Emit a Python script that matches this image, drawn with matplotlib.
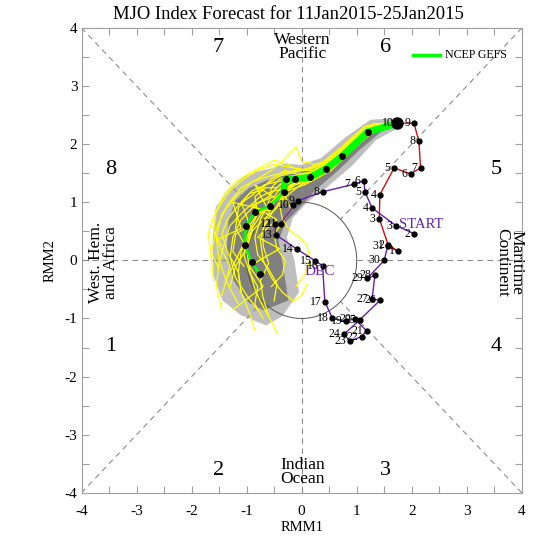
import matplotlib
matplotlib.use("Agg")
import matplotlib.pyplot as plt
from matplotlib.patches import Polygon, Circle
from matplotlib.ticker import MultipleLocator

plt.rcParams['font.family'] = ['Liberation Serif', 'DejaVu Serif']
plt.rcParams['axes.unicode_minus'] = False

# observed RMM, previous month (purple) and current month (red)
dec_days = list(range(2, 32))
dec_rmm1 = [2.04, 1.71, 1.28, 1.15, 1.13, 0.95, 0.38, -0.06, -0.15, -0.38, -0.49, -0.47, -0.08,
            0.25, 0.38, 0.42, 0.56, 0.80, 0.96, 1.18, 1.09, 0.88, 0.77, 1.06, 1.42, 1.28, 1.33,
            1.19, 1.50, 1.56]
dec_rmm2 = [0.46, 0.60, 0.90, 1.18, 1.37, 1.31, 1.18, 1.03, 0.95, 0.63, 0.63, 0.44, 0.19,
            -0.01, -0.09, -0.71, -1.00, -1.04, -1.01, -1.21, -1.31, -1.39, -1.27, -1.02, -0.69,
            -0.66, -0.26, -0.31, 0.0, 0.24]
jan_days = list(range(1, 11))
jan_rmm1 = [1.75, 1.57, 1.41, 1.42, 1.68, 1.98, 2.16, 2.13, 2.04, 1.74]
jan_rmm2 = [0.16, 0.27, 0.72, 1.13, 1.59, 1.49, 1.59, 2.05, 2.36, 2.36]

# ensemble mean forecast (NCEP GEFS)
mean_rmm1 = [1.74, 1.20, 0.74, 0.45, 0.15, -0.13, -0.29, -0.33, -0.58, -0.85, -1.02, -1.03, -0.91, -0.76]
mean_rmm2 = [2.36, 2.21, 1.80, 1.58, 1.43, 1.40, 1.40, 1.17, 0.94, 0.83, 0.59, 0.26, -0.03, -0.23]

# spread areas
outer_rmm1 = [1.80, 1.25, 0.80, 0.35, -0.02, -0.29, -0.56, -0.84, -1.05, -1.29, -1.56, -1.62, -1.60,
              -1.44, -1.11, -0.65, -0.35, -0.05, -0.13, -0.27, -0.16, 0.10, 0.45, 0.93, 1.35, 1.76]
outer_rmm2 = [2.45, 2.42, 2.12, 1.76, 1.64, 1.67, 1.58, 1.52, 1.44, 1.24, 0.92, 0.35, -0.26,
              -0.69, -0.94, -1.12, -0.96, -0.55, 0.0, 0.39, 0.73, 1.00, 1.25, 1.64, 2.07, 2.28]
inner_rmm1 = [1.73, 1.25, 0.80, 0.35, -0.02, -0.35, -0.65, -0.96, -1.20, -1.33, -1.36, -1.24, -0.96,
              -0.69, -0.24, -0.35, -0.42, -0.29, -0.05, 0.25, 0.62, 1.04, 1.44, 1.73]
inner_rmm2 = [2.36, 2.28, 1.98, 1.64, 1.51, 1.46, 1.37, 1.24, 1.03, 0.69, 0.18, -0.34, -0.73,
              -0.86, -0.69, -0.04, 0.34, 0.66, 0.89, 1.21, 1.51, 1.89, 2.21, 2.33]

# ensemble members
members_rmm1 = [
    [1.74, 1.25, 0.80, 0.50, 0.20, -0.10, -0.35, -0.60, -0.90, -1.20, -1.45, -1.55, -1.50, -1.35, -1.15],
    [1.74, 1.15, 0.70, 0.40, 0.10, -0.20, -0.45, -0.70, -0.90, -1.00, -0.95, -0.85, -0.70, -0.55, -0.45],
    [1.74, 1.30, 0.85, 0.55, 0.25, 0.00, -0.10, -0.30, -0.55, -0.80, -1.10, -1.35, -1.55, -1.65, -1.60],
    [1.74, 1.10, 0.65, 0.35, 0.05, -0.25, -0.50, -0.65, -0.75, -0.70, -0.55, -0.35, -0.15, 0.00, 0.10],
    [1.74, 1.20, 0.75, 0.45, 0.15, -0.15, -0.40, -0.60, -0.85, -1.10, -1.25, -1.30, -1.20, -1.00, -0.80],
    [1.74, 1.25, 0.78, 0.48, 0.18, -0.10, -0.30, -0.40, -0.35, -0.20, -0.05, 0.10, 0.15, 0.05, -0.10],
    [1.74, 1.18, 0.72, 0.42, 0.12, -0.20, -0.50, -0.80, -1.05, -1.30, -1.45, -1.60, -1.70, -1.65, -1.50],
    [1.74, 1.22, 0.76, 0.46, 0.16, -0.12, -0.35, -0.55, -0.80, -0.95, -1.10, -1.15, -1.10, -0.95, -0.85],
    [1.74, 1.28, 0.82, 0.52, 0.22, -0.05, -0.25, -0.45, -0.85, -0.60, -1.25, -1.10, -1.55, -1.30, -1.45],
    [1.74, 1.12, 0.68, 0.38, 0.08, -0.20, -0.40, -0.55, -0.60, -0.75, -0.85, -0.80, -0.60, -0.45, -0.50],
    [1.74, 1.24, 0.79, 0.49, 0.19, -0.08, -0.30, -0.55, -0.75, -0.95, -1.15, -1.20, -1.05, -1.20, -1.35],
    [1.74, 1.16, 0.71, 0.41, 0.11, -0.18, -0.38, -0.50, -0.90, -0.45, -0.80, -0.40, -0.95, -0.70, -1.25],
    [1.74, 1.26, 0.83, 0.53, 0.23, -0.05, -0.25, -0.50, -0.75, -0.95, -1.20, -1.40, -1.55, -1.60, -1.45],
    [1.74, 1.21, 0.74, 0.44, 0.14, -0.15, -0.33, -0.45, -0.70, -0.95, -1.05, -0.95, -0.80, -0.85, -0.70],
    [1.74, 1.19, 0.73, 0.43, 0.13, -0.12, -0.28, -0.30, -0.20, -0.35, -0.50, -0.45, -0.30, -0.35, -0.55],
    [1.74, 1.27, 0.81, 0.51, 0.21, -0.07, -0.28, -0.50, -0.75, -1.05, -1.30, -1.40, -1.50, -1.55, -1.45],
    [1.74, 1.23, 0.77, 0.47, 0.17, -0.12, -0.32, -0.45, -0.65, -0.85, -0.80, -0.95, -1.20, -1.25, -1.05],
    [1.74, 1.14, 0.70, 0.40, 0.10, -0.15, -0.40, -0.65, -0.90, -1.10, -1.00, -0.90, -1.00, -1.20, -1.30],
    [1.74, 1.29, 0.84, 0.54, 0.24, -0.02, -0.22, -0.40, -0.55, -0.70, -0.70, -0.60, -0.75, -0.70, -0.60],
    [1.74, 1.17, 0.72, 0.42, 0.12, -0.16, -0.42, -0.68, -0.90, -1.15, -1.35, -1.45, -1.35, -1.15, -1.10],
]
members_rmm2 = [
    [2.36, 2.30, 1.95, 1.70, 1.55, 1.55, 1.50, 1.45, 1.35, 1.10, 0.80, 0.40, 0.00, -0.40, -0.75],
    [2.36, 2.20, 1.80, 1.55, 1.40, 1.30, 1.10, 0.85, 0.55, 0.20, -0.15, -0.50, -0.80, -1.05, -1.25],
    [2.36, 2.35, 2.00, 1.75, 1.65, 1.70, 1.95, 1.75, 1.55, 1.40, 1.25, 0.95, 0.55, 0.10, -0.35],
    [2.36, 2.15, 1.70, 1.45, 1.30, 1.20, 1.00, 0.70, 0.35, 0.00, -0.30, -0.55, -0.70, -0.60, -0.40],
    [2.36, 2.28, 1.88, 1.65, 1.50, 1.45, 1.30, 1.10, 0.95, 0.70, 0.40, 0.05, -0.30, -0.60, -0.85],
    [2.36, 2.22, 1.85, 1.58, 1.42, 1.35, 1.20, 0.95, 0.70, 0.50, 0.40, 0.25, 0.00, -0.25, -0.45],
    [2.36, 2.32, 1.92, 1.68, 1.55, 1.60, 1.65, 1.55, 1.40, 1.20, 1.00, 0.75, 0.45, 0.15, -0.15],
    [2.36, 2.18, 1.78, 1.52, 1.38, 1.30, 1.15, 0.95, 0.80, 0.50, 0.15, -0.20, -0.55, -0.90, -1.20],
    [2.36, 2.26, 1.90, 1.62, 1.48, 1.40, 1.25, 1.05, 1.30, 0.85, 1.00, 0.55, 0.35, -0.10, -0.60],
    [2.36, 2.24, 1.86, 1.60, 1.48, 1.45, 1.40, 1.25, 1.00, 0.70, 0.40, 0.10, -0.15, -0.40, -0.70],
    [2.36, 2.29, 1.90, 1.66, 1.52, 1.48, 1.55, 1.40, 1.20, 1.15, 0.90, 0.55, 0.30, 0.00, -0.30],
    [2.36, 2.21, 1.81, 1.56, 1.44, 1.38, 1.25, 1.10, 0.95, 0.70, 0.40, 0.20, -0.10, -0.45, -0.85],
    [2.36, 2.33, 1.98, 1.72, 1.60, 1.55, 1.65, 1.72, 1.60, 1.50, 1.35, 1.15, 0.85, 0.50, 0.25],
    [2.36, 2.19, 1.80, 1.54, 1.40, 1.32, 1.18, 0.90, 0.70, 0.45, 0.10, -0.20, -0.45, -0.75, -1.00],
    [2.36, 2.27, 1.87, 1.63, 1.49, 1.40, 1.30, 1.10, 0.90, 0.65, 0.45, 0.20, 0.00, -0.25, -0.45],
    [2.36, 2.23, 1.84, 1.57, 1.44, 1.36, 1.22, 1.20, 1.10, 0.85, 0.60, 0.30, -0.05, -0.45, -0.85],
    [2.36, 2.25, 1.86, 1.61, 1.47, 1.42, 1.35, 1.25, 1.25, 1.10, 0.80, 0.60, 0.45, 0.15, -0.10],
    [2.36, 2.30, 1.93, 1.70, 1.58, 1.52, 1.45, 1.30, 1.20, 1.00, 0.75, 0.50, 0.20, -0.10, -0.45],
    [2.36, 2.21, 1.83, 1.55, 1.40, 1.30, 1.15, 1.00, 0.80, 0.55, 0.25, -0.05, -0.35, -0.65, -0.95],
    [2.36, 2.26, 1.85, 1.62, 1.46, 1.40, 1.36, 1.30, 1.12, 0.95, 0.70, 0.45, 0.15, -0.20, -0.55],
]

phase_nums = ['1', '2', '3', '4', '5', '6', '7', '8']
phase_x = [-3.47, -1.51, 1.53, 3.53, 3.53, 1.53, -1.51, -3.47]
phase_y = [-1.49, -3.61, -3.61, -1.49, 1.56, 3.67, 3.67, 1.56]

PURPLE = '#6a1fa8'
RED = '#d01010'

fig = plt.figure(figsize=(5.47, 5.47), dpi=100)
ax = fig.add_axes([0.149, 0.099, 0.805, 0.850])
ax.set_xlim(-4, 4)
ax.set_ylim(-4, 4)

# spread shading
ax.add_patch(Polygon(list(zip(outer_rmm1, outer_rmm2)), closed=True, fc='#bebebe', ec='none', zorder=1))
ax.add_patch(Polygon(list(zip(inner_rmm1, inner_rmm2)), closed=True, fc='#808080', ec='none', zorder=1.1))

# phase diagram guides
dash = dict(color='#8c8c8c', lw=0.8, ls=(0, (5, 4)), zorder=2)
r = 0.7071
ax.plot([-4, -r], [-4, -r], **dash)
ax.plot([4, r], [4, r], **dash)
ax.plot([-4, -r], [4, r], **dash)
ax.plot([4, r], [-4, -r], **dash)
ax.plot([-4, -1], [0, 0], **dash)
ax.plot([1, 4], [0, 0], **dash)
ax.plot([0, 0], [1, 4], **dash)
ax.plot([0, 0], [-1, -4], **dash)
ax.add_patch(Circle((0, 0), 1.0, fill=False, ec='#555555', lw=0.7, zorder=2))

# members
for mx, my in zip(members_rmm1, members_rmm2):
    ax.plot(mx, my, color='#ffff00', lw=0.9, zorder=3)

# ensemble mean
ax.plot(mean_rmm1[:8], mean_rmm2[:8], color='#00ff00', lw=5, solid_capstyle='round', zorder=4)
ax.plot(mean_rmm1[7:], mean_rmm2[7:], color='#00ff00', lw=1.8, zorder=4)
ax.plot(mean_rmm1[1:], mean_rmm2[1:], 'o', color='black', ms=4, zorder=5)

# observed
ax.plot(dec_rmm1, dec_rmm2, color=PURPLE, lw=1.0, zorder=6)
ax.plot([dec_rmm1[-1]] + jan_rmm1, [dec_rmm2[-1]] + jan_rmm2, color=RED, lw=1.0, zorder=6)
ax.plot(dec_rmm1 + jan_rmm1[:-1], dec_rmm2 + jan_rmm2[:-1], 'o', color='black', ms=3.5, zorder=7)
ax.plot(jan_rmm1[-1], jan_rmm2[-1], 'o', color='black', ms=8, zorder=7)
for d, x, y in zip(dec_days + jan_days, dec_rmm1 + jan_rmm1, dec_rmm2 + jan_rmm2):
    ax.annotate(str(d), (x, y), xytext=(-2.5, 0), textcoords='offset points',
                ha='right', va='center', fontsize=8.5, zorder=8)
ax.text(1.76, 0.61, 'START', color=PURPLE, fontsize=10.5, va='center', ha='left', zorder=8)
ax.text(0.06, -0.20, 'DEC', color=PURPLE, fontsize=11, va='center', ha='left', zorder=8)

# phase labels
for p, x, y in zip(phase_nums, phase_x, phase_y):
    ax.text(x, y, p, fontsize=16, ha='center', va='center')
ax.text(0.02, 3.67, 'Western\nPacific', fontsize=12.5, ha='center', va='center', linespacing=0.85)
ax.text(0.02, -3.64, 'Indian\nOcean', fontsize=12.5, ha='center', va='center', linespacing=0.85)
ax.text(-3.6, -0.03, 'West. Hem.\nand Africa', fontsize=12.5, ha='center', va='center',
        rotation=90, linespacing=0.85)
ax.text(3.78, -0.03, 'Maritime\nContinent', fontsize=12.5, ha='center', va='center',
        rotation=-90, linespacing=0.85)

# legend
ax.plot([2.02, 2.51], [3.54, 3.54], color='#00ff00', lw=2.5)
ax.text(2.6, 3.54, 'NCEP GEFS', fontsize=8.6, va='center', ha='left')

# axes styling
ax.xaxis.set_major_locator(MultipleLocator(1))
ax.yaxis.set_major_locator(MultipleLocator(1))
ax.xaxis.set_minor_locator(MultipleLocator(0.5))
ax.yaxis.set_minor_locator(MultipleLocator(0.5))
ax.tick_params(which='both', direction='in', length=5, width=0.8, color='#a0a0a0',
               top=True, right=True, labelsize=11)
ax.tick_params(axis='x', pad=9)
ax.tick_params(axis='y', pad=3)
for s in ax.spines.values():
    s.set_color('#a0a0a0')
    s.set_linewidth(0.8)
ax.set_xlabel('RMM1', fontsize=10.5, labelpad=2)
ax.set_ylabel('RMM2', fontsize=10.5, labelpad=6)

fig.text(0.527, 0.974, 'MJO Index Forecast for 11Jan2015-25Jan2015', fontsize=13.4,
         ha='center', va='center')

fig.savefig('out.png', dpi=100)
